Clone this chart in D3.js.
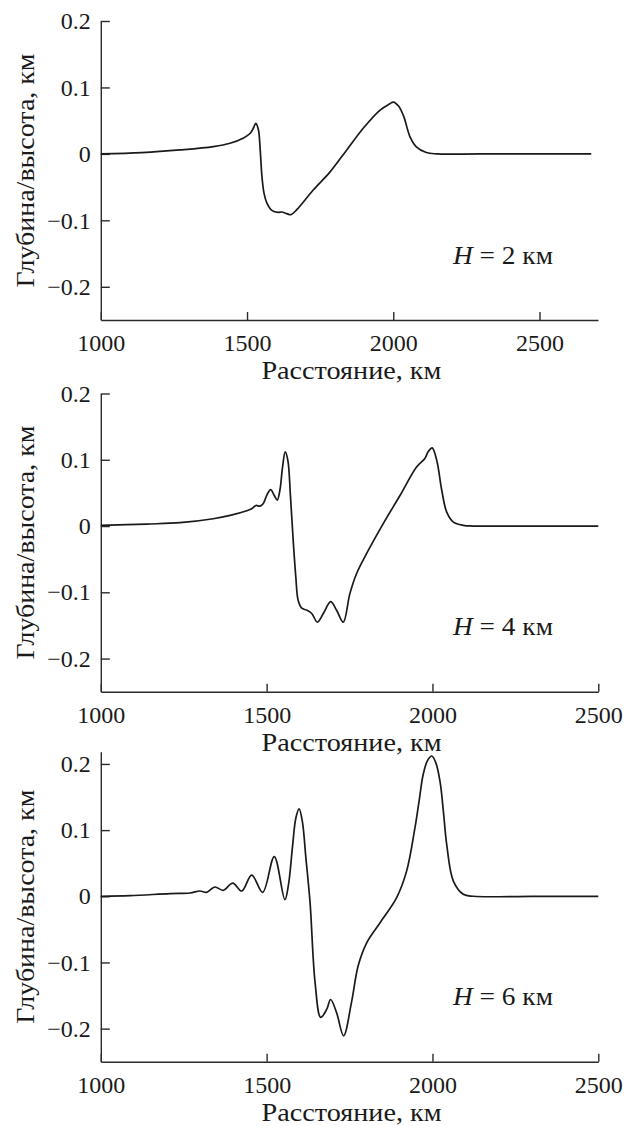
<!DOCTYPE html>
<html>
<head>
<meta charset="utf-8">
<script src="https://cdn.jsdelivr.net/npm/d3@7"></script>
<style>
  html, body { margin: 0; padding: 0; background: #fff; }
  svg text { font-family: "Liberation Serif", "Times New Roman", serif; fill: #1a1a1a; }
</style>
</head>
<body>
<svg id="chart" width="639" height="1126"></svg>
<script>
// distance, km  /  depth-height, km
const dist2 = [1000, 1140, 1271, 1385, 1442, 1488, 1511, 1522, 1530, 1539, 1545, 1551, 1558, 1568, 1585, 1607, 1619,
  1636, 1650, 1670, 1727, 1784, 1841, 1898, 1955, 1987, 2000, 2018, 2036, 2057, 2078, 2113, 2149, 2300, 2677];
const elev2 = [0, 0.002, 0.006, 0.011, 0.016, 0.024, 0.031, 0.039, 0.046, 0.036, 0.006, -0.034, -0.059, -0.074, -0.085, -0.088, -0.0875,
  -0.090, -0.0915, -0.084, -0.054, -0.027, 0.006, 0.039, 0.066, 0.075, 0.078, 0.072, 0.056, 0.026, 0.011, 0.002, 0, 0, 0];

const dist4 = [1000, 1138, 1239, 1339, 1390, 1440, 1455, 1468, 1480, 1490, 1500, 1512, 1523, 1532, 1540, 1548, 1556, 1564,
  1572, 1580, 1588, 1595, 1606, 1621, 1636, 1653, 1671, 1693, 1711, 1731, 1751, 1771, 1802, 1852, 1902, 1952, 1977, 1987,
  1999, 2013, 2028, 2043, 2063, 2093, 2123, 2300, 2500];
const elev4 = [0.001, 0.003, 0.005, 0.011, 0.016, 0.023, 0.026, 0.031, 0.030, 0.034, 0.046, 0.055, 0.046, 0.039, 0.054, 0.089, 0.112, 0.099,
  0.044, -0.021, -0.077, -0.112, -0.124, -0.127, -0.132, -0.145, -0.132, -0.114, -0.127, -0.145, -0.102, -0.072, -0.041, 0.004, 0.046, 0.089, 0.102, 0.112,
  0.118, 0.099, 0.054, 0.021, 0.006, 0.001, 0, 0, 0];

const dist6 = [1000, 1088, 1209, 1269, 1299, 1319, 1344, 1369, 1398, 1425, 1455, 1488, 1523, 1555, 1566, 1578, 1588, 1598, 1608, 1618,
  1631, 1646, 1663, 1681, 1693, 1711, 1732, 1756, 1776, 1802, 1842, 1892, 1922, 1947, 1960, 1972, 1985, 1998, 2010, 2023, 2033, 2043, 2063, 2093,
  2123, 2300, 2500];
const elev6 = [0, 0.001, 0.004, 0.005, 0.008, 0.006, 0.014, 0.009, 0.020, 0.008, 0.032, 0.006, 0.060, -0.005, 0.018, 0.075, 0.118, 0.132, 0.112, 0.060,
  -0.010, -0.130, -0.183, -0.171, -0.156, -0.176, -0.211, -0.160, -0.105, -0.070, -0.040, -0.002, 0.038, 0.103, 0.145, 0.184, 0.205, 0.212, 0.202, 0.173, 0.128, 0.078, 0.023, 0.003,
  0, 0, 0];

const depthLabels = ["2", "4", "6"];
const xTickValues = [1000, 1500, 2000, 2500];
const yTickValues = [-0.2, -0.1, 0, 0.1, 0.2];
const xTitle = "Расстояние, км";
const yTitle = "Глубина/высота, км";

const panels = [
  { x: dist2, y: elev2, h: depthLabels[0], top: 21, bottom: 320, right: 598, xMax: 2700, yMax: 0.2 },
  { x: dist4, y: elev4, h: depthLabels[1], top: 393.5, bottom: 691.7, right: 598.3, xMax: 2500, yMax: 0.2 },
  { x: dist6, y: elev6, h: depthLabels[2], top: 751.7, bottom: 1061.7, right: 598.3, xMax: 2500, yMax: 0.2185 },
];

const marginLeft = 100.8;
const fontSize = 24;
const serif = "'Liberation Serif', 'Times New Roman', serif";
const svg = d3.select("#chart");
const fmt = d3.format(".1f");

panels.forEach(p => {
  const x = d3.scaleLinear().domain([1000, p.xMax]).range([marginLeft, p.right]);
  const y = d3.scaleLinear().domain([-0.25, p.yMax]).range([p.bottom, p.top]);

  const g = svg.append("g").attr("font-family", serif);

  // horizontal axis, ticks pointing inward
  g.append("g")
    .attr("transform", `translate(0,${p.bottom})`)
    .call(d3.axisBottom(x).tickValues(xTickValues).tickSize(-8).tickSizeOuter(0).tickPadding(14).tickFormat(d3.format("d")))
    .attr("font-family", serif)
    .call(a => a.selectAll("text").attr("font-size", fontSize))
    .call(a => a.selectAll("line, path").attr("stroke", "#2b2b2b").attr("stroke-width", 1.4));

  // vertical axis
  g.append("g")
    .attr("transform", `translate(${marginLeft},0)`)
    .call(d3.axisLeft(y).tickValues(yTickValues).tickSize(-9).tickSizeOuter(0).tickPadding(10)
      .tickFormat(d => d === 0 ? "0" : fmt(d)))
    .attr("font-family", serif)
    .call(a => a.selectAll("text").attr("font-size", fontSize))
    .call(a => a.selectAll("line, path").attr("stroke", "#2b2b2b").attr("stroke-width", 1.4));

  // curve
  const pts = p.x.map((d, i) => [d, p.y[i]]);
  g.append("path")
    .datum(pts)
    .attr("fill", "none")
    .attr("stroke", "#1a1a1a")
    .attr("stroke-width", 1.7)
    .attr("stroke-linejoin", "round")
    .attr("d", d3.line().x(d => x(d[0])).y(d => y(d[1])).curve(d3.curveCatmullRom.alpha(0.5)));

  // axis titles
  g.append("text")
    .attr("x", (marginLeft + p.right) / 2 + 2)
    .attr("y", p.bottom + 59)
    .attr("text-anchor", "middle")
    .attr("font-size", 25)
    .attr("textLength", 180)
    .attr("lengthAdjust", "spacingAndGlyphs")
    .text(xTitle);

  g.append("text")
    .attr("transform", `translate(25,${(p.top + p.bottom) / 2}) rotate(-90)`)
    .attr("text-anchor", "middle")
    .attr("dominant-baseline", "central")
    .attr("font-size", 25)
    .attr("textLength", 234)
    .attr("lengthAdjust", "spacingAndGlyphs")
    .text(yTitle);

  // depth annotation
  const lab = g.append("text")
    .attr("x", 453)
    .attr("y", p.bottom - 56.5)
    .attr("font-size", 25)
    .attr("textLength", 100)
    .attr("lengthAdjust", "spacingAndGlyphs");
  lab.append("tspan").attr("font-style", "italic").text("H");
  lab.append("tspan").text(` = ${p.h} км`);
});
</script>
</body>
</html>
